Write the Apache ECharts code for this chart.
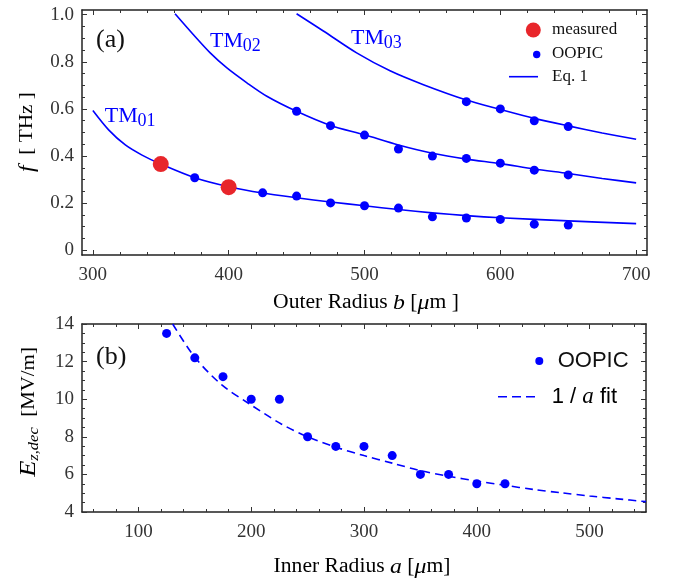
<!DOCTYPE html>
<html>
<head>
<meta charset="utf-8">
<script src="https://cdn.jsdelivr.net/npm/echarts@6/dist/echarts.min.js"></script>
<style>html,body{margin:0;padding:0;background:#fff}#c{width:673px;height:578px}</style>
</head>
<body>
<div id="c"></div>
<script>
// ---------- Panel (a) data ----------
const measuredB = [350, 400];
const measuredF = [0.366, 0.268];

const tm01OopicB = [375, 425, 450, 475, 500, 525, 550, 575, 600, 625, 650];
const tm01OopicF = [0.308, 0.244, 0.230, 0.201, 0.189, 0.179, 0.142, 0.137, 0.131, 0.111, 0.107];
const tm02OopicB = [450, 475, 500, 525, 550, 575, 600, 625, 650];
const tm02OopicF = [0.590, 0.529, 0.489, 0.430, 0.400, 0.390, 0.370, 0.340, 0.320];
const tm03OopicB = [575, 600, 625, 650];
const tm03OopicF = [0.631, 0.600, 0.550, 0.525];

const tm01CurveB = [300, 311.6, 323.9, 336.2, 350, 375, 400, 425, 450, 475, 500, 525, 550, 575, 600, 650, 700];
const tm01CurveF = [0.593, 0.511, 0.447, 0.404, 0.366, 0.308, 0.270, 0.243, 0.223, 0.205, 0.189, 0.173, 0.159, 0.147, 0.138, 0.125, 0.113];
const tm02CurveB = [360.5, 373.9, 386.4, 398.7, 413.4, 428.1, 450, 474.5, 500, 525, 550, 575, 600, 625, 650, 675, 700];
const tm02CurveF = [1.004, 0.916, 0.838, 0.774, 0.711, 0.654, 0.590, 0.531, 0.490, 0.447, 0.412, 0.387, 0.368, 0.345, 0.326, 0.305, 0.286];
const tm03CurveB = [450, 469.7, 494.2, 518.8, 543.4, 575, 600, 625, 650, 675, 700];
const tm03CurveF = [1.004, 0.931, 0.838, 0.762, 0.703, 0.638, 0.598, 0.560, 0.528, 0.498, 0.471];

const xTicksA = [300, 400, 500, 600, 700];
const yTicksA = [0, 0.2, 0.4, 0.6, 0.8, 1.0];

// ---------- Panel (b) data ----------
const oopicA = [125, 150, 175, 200, 225, 250, 275, 300, 325, 350, 375, 400, 425];
const oopicE = [13.5, 12.2, 11.2, 10.0, 10.0, 8.0, 7.49, 7.49, 7.0, 6.0, 6.0, 5.5, 5.5];
const fitA = [130.4, 150, 173.7, 197.2, 226.7, 250, 275, 300, 325, 350, 375, 400, 425, 450, 475, 500, 525, 550];
const fitE = [14.0, 12.23, 10.77, 9.8, 8.68, 8.0, 7.45, 7.0, 6.6, 6.2, 5.9, 5.65, 5.42, 5.2, 5.02, 4.85, 4.7, 4.55];

const xTicksB = [100, 200, 300, 400, 500];
const yTicksB = [4, 6, 8, 10, 12, 14];

const BLUE = '#0000ff';
const RED = '#e8262b';
const SERIF = 'Liberation Serif';
const SANS = 'Liberation Sans';

function range(a, b, step) {
  const out = [];
  for (let v = a; v <= b + 1e-9; v += step) out.push(Math.round(v * 1000) / 1000);
  return out;
}
function zip(xs, ys) { return xs.map((x, i) => [x, ys[i]]); }

function frameAxes(dim, grid, min, max, majors, minors, fmt) {
  const pos = dim === 'x' ? ['bottom', 'top'] : ['left', 'right'];
  const base = {
    type: 'value', gridIndex: grid, min: min, max: max,
    splitLine: { show: false }, minorTick: { show: false }
  };
  const lineOn = { show: true, onZero: false, lineStyle: { color: '#222', width: 1.5 } };
  const lineOff = { show: false, onZero: false };
  const tick = (vals, len) => ({ show: true, inside: true, length: len, customValues: vals, lineStyle: { color: '#333', width: 1 } });
  return [
    Object.assign({}, base, {
      position: pos[0], axisLine: lineOn, axisTick: tick(majors, 5),
      axisLabel: { show: true, customValues: majors, formatter: fmt, color: '#333', fontFamily: SERIF, fontSize: 19,
                   margin: dim === 'x' ? 11 : 8 }
    }),
    Object.assign({}, base, { position: pos[0], axisLine: lineOff, axisTick: tick(minors, 3), axisLabel: { show: false } }),
    Object.assign({}, base, { position: pos[1], axisLine: lineOn, axisTick: tick(majors, 5), axisLabel: { show: false } }),
    Object.assign({}, base, { position: pos[1], axisLine: lineOff, axisTick: tick(minors, 3), axisLabel: { show: false } })
  ];
}

const xAxes = [].concat(
  frameAxes('x', 0, 292, 708, xTicksA, range(300, 700, 20), v => String(v)),
  frameAxes('x', 1, 50, 550, xTicksB, range(60, 540, 20), v => String(v))
);
const yAxes = [].concat(
  frameAxes('y', 0, -0.02, 1.02, yTicksA, range(0, 1.0, 0.05), v => (v === 0 ? '0' : v.toFixed(1))),
  frameAxes('y', 1, 4, 14, yTicksB, range(4, 14, 0.5), v => String(v))
);

function txt(x, y, text, font, fill, extra) {
  return Object.assign({ type: 'text', x: x, y: y, z: 10,
    style: { text: text, font: font, fill: fill, textAlign: 'left', textVerticalAlign: 'middle' } }, extra || {});
}
function richTitle(x, y, text, rich, extra) {
  return Object.assign({ type: 'text', x: x, y: y, z: 10,
    style: { text: text, textAlign: 'center', textVerticalAlign: 'middle', rich: rich } }, extra || {});
}

const chart = echarts.init(document.getElementById('c'), null, { renderer: 'canvas' });

const curveStyle = { color: BLUE, width: 1.6 };
const option = {
  animation: false,
  backgroundColor: '#fff',
  grid: [
    { left: 82, top: 10, width: 565, height: 245 },
    { left: 82, top: 324, width: 564, height: 188 }
  ],
  xAxis: xAxes,
  yAxis: yAxes,
  series: [
    { name: 'Eq. 1', type: 'line', xAxisIndex: 0, yAxisIndex: 0, data: zip(tm01CurveB, tm01CurveF),
      symbol: 'none', smooth: 0.3, lineStyle: curveStyle, itemStyle: { color: BLUE }, z: 2 },
    { name: 'Eq. 1', type: 'line', xAxisIndex: 0, yAxisIndex: 0, data: zip(tm02CurveB, tm02CurveF),
      symbol: 'none', smooth: 0.3, lineStyle: curveStyle, itemStyle: { color: BLUE }, z: 2 },
    { name: 'Eq. 1', type: 'line', xAxisIndex: 0, yAxisIndex: 0, data: zip(tm03CurveB, tm03CurveF),
      symbol: 'none', smooth: 0.3, lineStyle: curveStyle, itemStyle: { color: BLUE }, z: 2 },
    { name: 'OOPIC', type: 'scatter', xAxisIndex: 0, yAxisIndex: 0,
      data: [].concat(zip(tm01OopicB, tm01OopicF), zip(tm02OopicB, tm02OopicF), zip(tm03OopicB, tm03OopicF)),
      symbol: 'circle', symbolSize: 9, itemStyle: { color: BLUE, opacity: 1 }, z: 3 },
    { name: 'measured', type: 'scatter', xAxisIndex: 0, yAxisIndex: 0, data: zip(measuredB, measuredF),
      symbol: 'circle', symbolSize: 16, itemStyle: { color: RED, opacity: 1 }, z: 4 },
    { name: 'OOPIC', type: 'scatter', xAxisIndex: 4, yAxisIndex: 4, data: zip(oopicA, oopicE),
      symbol: 'circle', symbolSize: 9, itemStyle: { color: BLUE, opacity: 1 }, z: 3 },
    { name: '1 / a fit', type: 'line', xAxisIndex: 4, yAxisIndex: 4, data: zip(fitA, fitE),
      symbol: 'none', smooth: 0.3, lineStyle: { color: BLUE, width: 1.6, type: [8, 5] }, itemStyle: { color: BLUE }, z: 2 }
  ],
  graphic: [
    // panel tags
    txt(96, 40, '(a)', '26px "Liberation Serif"', '#111'),
    txt(96, 357, '(b)', '26px "Liberation Serif"', '#111'),
    // mode labels
    txt(104.7, 115.8, 'TM', '22px "Liberation Serif"', BLUE),
    txt(137.5, 121.2, '01', '18px "Liberation Serif"', BLUE),
    txt(210, 41.2, 'TM', '22px "Liberation Serif"', BLUE),
    txt(242.8, 46.6, '02', '18px "Liberation Serif"', BLUE),
    txt(351, 37.8, 'TM', '22px "Liberation Serif"', BLUE),
    txt(383.8, 43.2, '03', '18px "Liberation Serif"', BLUE),
    // legend (a)
    { type: 'circle', z: 10, shape: { cx: 533.3, cy: 30, r: 7.5 }, style: { fill: RED } },
    txt(552, 30, 'measured', '17px "Liberation Serif"', '#111'),
    { type: 'circle', z: 10, shape: { cx: 536.7, cy: 54.5, r: 3.7 }, style: { fill: BLUE } },
    txt(552, 54, 'OOPIC', '17px "Liberation Serif"', '#111'),
    { type: 'line', z: 10, shape: { x1: 509, y1: 76.7, x2: 538, y2: 76.7 }, style: { stroke: BLUE, lineWidth: 1.6 } },
    txt(552, 77, 'Eq. 1', '17px "Liberation Serif"', '#111'),
    // legend (b)
    { type: 'circle', z: 10, shape: { cx: 539.3, cy: 361, r: 4 }, style: { fill: BLUE } },
    txt(557.7, 361, 'OOPIC', '22px "Liberation Sans"', '#111'),
    { type: 'line', z: 10, shape: { x1: 498, y1: 396.7, x2: 537, y2: 396.7 },
      style: { stroke: BLUE, lineWidth: 1.6, lineDash: [9, 5] } },
    { type: 'text', x: 551.7, y: 397, z: 10, style: { text: '{n|1 / }{i|a}{n| fit}', textAlign: 'left', textVerticalAlign: 'middle',
        rich: { n: { fontFamily: SANS, fontSize: 22, color: '#111' },
                i: { fontFamily: SERIF, fontStyle: 'italic', fontSize: 23, color: '#111' } } } },
    // axis titles
    richTitle(366, 303, '{n|Outer Radius }{i|b}{n| [}{i|μ}{n|m ]}',
      { n: { fontFamily: SERIF, fontSize: 20, color: '#111' },
        i: { fontFamily: SERIF, fontStyle: 'italic', fontSize: 22, color: '#111' } }, { scaleX: 1.08, scaleY: 1 }),
    richTitle(362, 567, '{n|Inner Radius }{i|a}{n| [}{i|μ}{n|m]}',
      { n: { fontFamily: SERIF, fontSize: 20, color: '#111' },
        i: { fontFamily: SERIF, fontStyle: 'italic', fontSize: 22, color: '#111' } }, { scaleX: 1.08, scaleY: 1 }),
    richTitle(27, 132, '{i|f}{n|  [ THz ]}',
      { n: { fontFamily: SERIF, fontSize: 19, color: '#111' },
        i: { fontFamily: SERIF, fontStyle: 'italic', fontSize: 21, color: '#111' } },
      { rotation: Math.PI / 2, scaleX: 1.12, scaleY: 1 }),
    richTitle(29, 412, '{i|E}{s|z,dec}{n|  [MV/m]}',
      { n: { fontFamily: SERIF, fontSize: 19, color: '#111' },
        i: { fontFamily: SERIF, fontStyle: 'italic', fontSize: 24, color: '#111' },
        s: { fontFamily: SERIF, fontStyle: 'italic', fontSize: 15, color: '#111', padding: [10, 0, 0, 0] } },
      { rotation: Math.PI / 2, scaleX: 1.1, scaleY: 1 })
  ]
};
chart.setOption(option);
</script>
</body>
</html>
